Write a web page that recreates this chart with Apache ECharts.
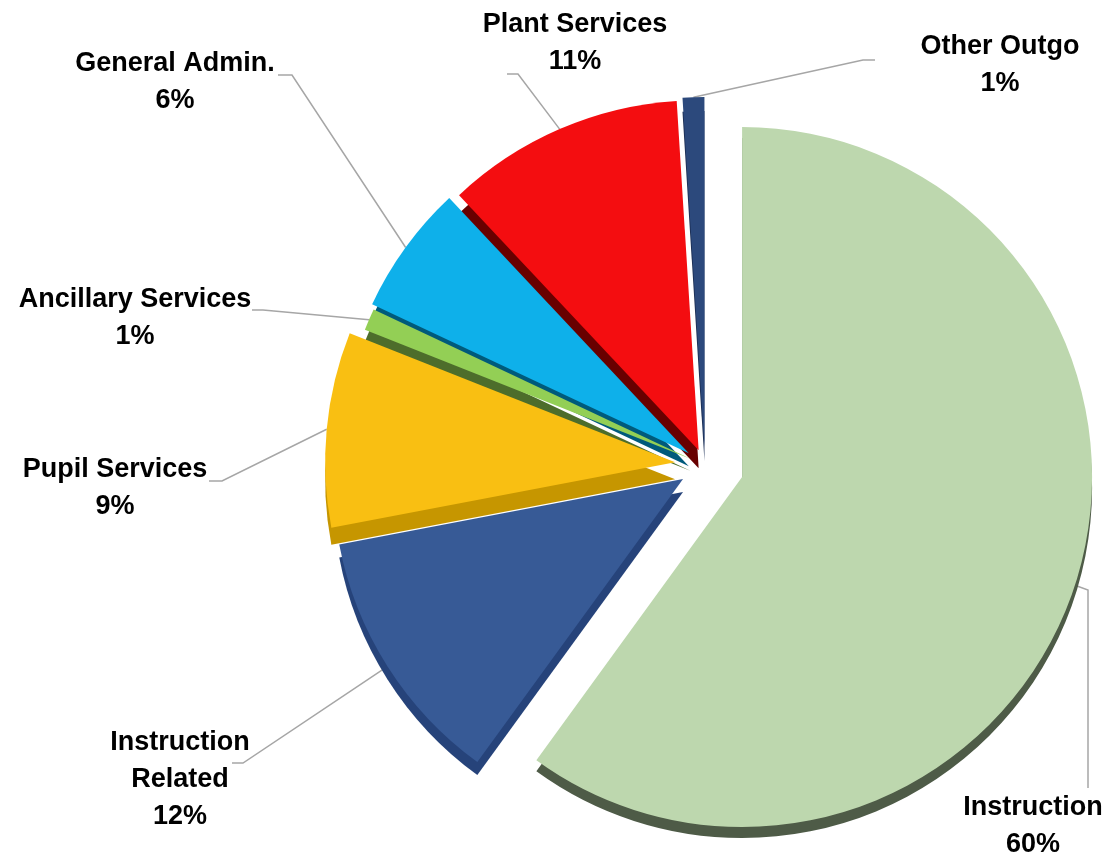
<!DOCTYPE html>
<html>
<head>
<meta charset="utf-8">
<title>Expenditures by Function</title>
<script src="https://cdn.jsdelivr.net/npm/echarts@6/dist/echarts.min.js"></script>
<style>
  html, body { margin: 0; padding: 0; background: #ffffff; }
  #chart { width: 1118px; height: 858px; }
</style>
</head>
<body>
<div id="chart"></div>
<script>
// Share of total expenditures by function, in percent
const categories = ['Instruction', 'Instruction\nRelated', 'Pupil Services', 'Ancillary Services',
                    'General Admin.', 'Plant Services', 'Other Outgo'];
const shares = [60, 12, 9, 1, 6, 11, 1];

// Colours of each wedge's top face and of its thickness (side)
const faceColors = ['#bdd7ae', '#375a96', '#f9bf12', '#93cf55', '#0eb0ea', '#f40d10', '#2c497c'];
const sideColors = ['#4e5b47', '#26437a', '#c69600', '#4d6d2b', '#005a7b', '#680000', '#1b2e54'];

// How far each wedge is pulled out from the centre, and how thick it looks (px)
const pullOut   = [39, 26, 30, 16, 20, 16, 18];
const thickness = [11, 13, 17, 12, 13, 18, 14];

const CENTER = [705, 465];
const RADIUS = 350;
const START_ANGLE = 90;
const FONT = '"Liberation Sans Narrow", "Arial Narrow", "Liberation Sans", Arial, sans-serif';

// Label blocks (centre) and the bend / end of each guide line
const labelSpots = {
  'Instruction':         { c: [1033, 826], bend: [1088, 590], end: [1088, 788] },
  'Instruction\nRelated':{ c: [180, 780],  bend: [243, 763],  end: [232, 763] },
  'Pupil Services':      { c: [115, 488],  bend: [222, 481],  end: [209, 481] },
  'Ancillary Services':  { c: [135, 318],  bend: [263, 310],  end: [252, 310] },
  'General Admin.':      { c: [175, 82],   bend: [292, 75],   end: [278, 75] },
  'Plant Services':      { c: [575, 43],   bend: [518, 74],   end: [507, 74] },
  'Other Outgo':         { c: [1000, 65],  bend: [863, 60],   end: [875, 60] }
};

function placeLabel(p) {
  const spot = labelSpots[categories[p.dataIndex]];
  if (!spot) return {};
  const pts = p.labelLinePoints;
  const start = pts && pts[0] ? [pts[0][0], pts[0][1]] : spot.bend.slice();
  return {
    x: spot.c[0],
    y: spot.c[1],
    align: 'center',
    verticalAlign: 'middle',
    labelLinePoints: [start, spot.bend.slice(), spot.end.slice()]
  };
}

// Direction in which wedge k is pulled out: through the middle of its arc
const total = shares.reduce((a, b) => a + b, 0);
function pullVector(k) {
  let before = 0;
  for (let i = 0; i < k; i++) before += shares[i];
  const mid = (START_ANGLE - 360 * (before + shares[k] / 2) / total) * Math.PI / 180;
  return [Math.cos(mid) * pullOut[k], -Math.sin(mid) * pullOut[k]];
}

// One pie per wedge: every pie lays out all shares, only wedge k is painted,
// so each wedge can sit at its own pulled-out centre.
function wedgeSeries(k, colors, dy, withLabel) {
  const v = pullVector(k);
  return {
    type: 'pie',
    center: [CENTER[0] + v[0], CENTER[1] + v[1] + dy],
    radius: RADIUS,
    startAngle: START_ANGLE,
    clockwise: true,
    avoidLabelOverlap: false,
    percentPrecision: 0,
    silent: true,
    emphasis: { disabled: true },
    itemStyle: { borderWidth: 0 },
    label: withLabel ? {
      show: true,
      formatter: '{b}\n{d}%',
      color: '#000000',
      fontFamily: FONT,
      fontWeight: 'bold',
      fontSize: 27,
      lineHeight: 37,
      align: 'center'
    } : { show: false },
    labelLine: withLabel ? {
      show: true,
      smooth: false,
      lineStyle: { color: '#a6a6a6', width: 1.5 }
    } : { show: false },
    labelLayout: withLabel ? placeLabel : undefined,
    data: shares.map((val, i) => ({
      name: categories[i],
      value: val,
      itemStyle: { color: i === k ? colors[i] : 'rgba(0,0,0,0)' },
      label: { show: withLabel && i === k },
      labelLine: { show: withLabel && i === k }
    }))
  };
}

const series = [];
// the wedges' sides first, then their top faces over them
shares.forEach((_, k) => series.push(wedgeSeries(k, sideColors, thickness[k], false)));
shares.forEach((_, k) => series.push(wedgeSeries(k, faceColors, 0, true)));

const chart = echarts.init(document.getElementById('chart'), null, { renderer: 'canvas' });
chart.setOption({
  animation: false,
  backgroundColor: '#ffffff',
  series: series
});
</script>
</body>
</html>
